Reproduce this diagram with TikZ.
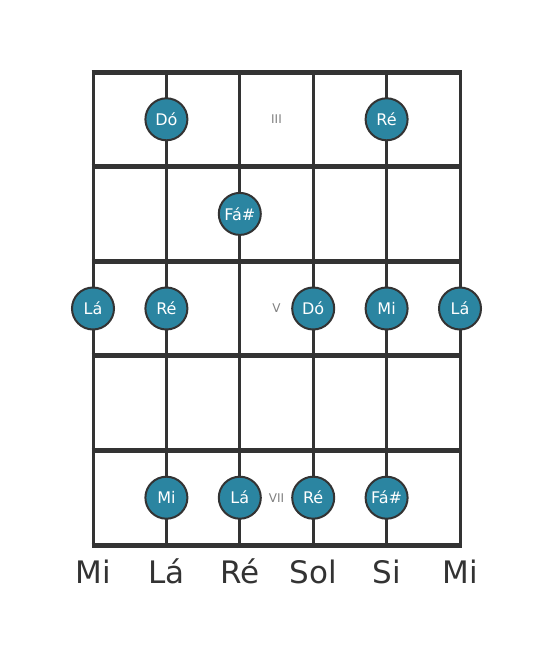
\documentclass[tikz,border=0pt]{standalone}
\usepackage{fontspec}
\setmainfont{DejaVu Sans}
\definecolor{notefill}{HTML}{2B85A1}
\definecolor{boardline}{HTML}{333333}

\def\strsep{73.4}
\def\fretsep{94.6}

\begin{document}
\begin{tikzpicture}[x=1pt,y=-1pt]
    \tikzstyle{string line}=[draw=boardline,line width=3pt]
    \tikzstyle{fret line}=[draw=boardline,line width=5pt]
    \tikzstyle{note}=[circle,fill=notefill,draw=boardline,line width=2pt,minimum size=42pt,inner sep=0pt,text=white,font=\fontsize{16}{16}\selectfont]
    \tikzstyle{fret mark}=[text=gray,font=\fontsize{12}{12}\selectfont]
    \tikzstyle{tuning}=[text=boardline,anchor=base,font=\fontsize{31}{31}\selectfont]

    \useasboundingbox (0,0) rectangle (553,656);

    % Ends of the strings and of the frets
    \foreach \s in {1,...,6} {
        \coordinate (T-\s) at ({93+(\s-1)*\strsep},72);
        \coordinate (B-\s) at ({93+(\s-1)*\strsep},{72+5*\fretsep});
    }
    \foreach \f in {0,...,5} {
        \coordinate (L-\f) at (91.5,{72+\f*\fretsep});
        \coordinate (R-\f) at (461.5,{72+\f*\fretsep});
    }

    % Draw the strings and the frets
    \foreach \s in {1,...,6}
        \draw[string line] (T-\s) -- (B-\s);
    \foreach \f in {0,...,5}
        \draw[fret line] (L-\f) -- (R-\f);

    % Position marks between the third and the fourth string
    \foreach \k / \mark in {1/III,3/V,5/VII}
        \node[fret mark] (M-\k) at ({93+2.5*\strsep},{72+(\k-0.5)*\fretsep}) {\mark};

    % Notes of the scale: string / fret / name
    \foreach \s / \k / \name in {2/1/Dó,5/1/Ré,3/2/Fá\#,1/3/Lá,2/3/Ré,4/3/Dó,5/3/Mi,6/3/Lá,2/5/Mi,3/5/Lá,4/5/Ré,5/5/Fá\#}
        \node[note] (N-\s-\k) at ({93+(\s-1)*\strsep},{72+(\k-0.5)*\fretsep}) {\name};

    % Open string names
    \foreach \s / \name in {1/Mi,2/Lá,3/Ré,4/Sol,5/Si,6/Mi}
        \node[tuning] (O-\s) at ({93+(\s-1)*\strsep},583) {\name};
\end{tikzpicture}
\end{document}
